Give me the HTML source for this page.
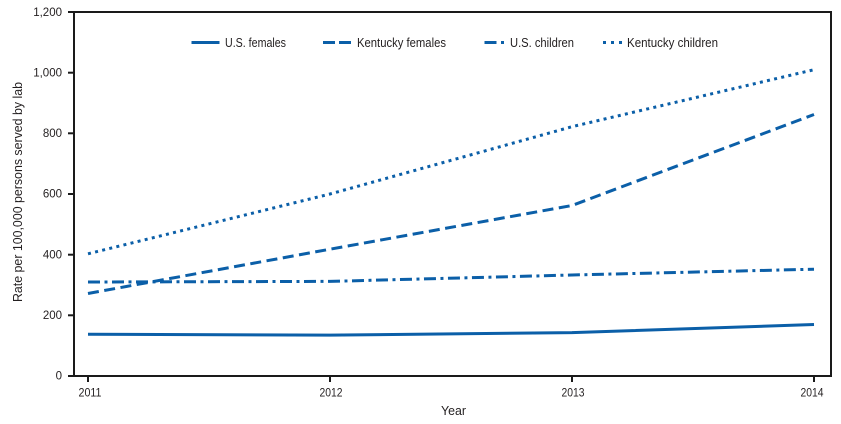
<!DOCTYPE html>
<html>
<head>
<meta charset="utf-8">
<style>
  html,body{margin:0;padding:0;background:#fff;}
  svg{display:block;}
  text{font-family:"Liberation Sans",sans-serif;fill:#231f20;}
</style>
</head>
<body>
<svg width="841" height="424" viewBox="0 0 841 424" xmlns="http://www.w3.org/2000/svg">
  <rect x="0" y="0" width="841" height="424" fill="#fff"/>

  <!-- Series -->
  <g fill="none" stroke="#0b5fa8" stroke-width="3" stroke-linejoin="round">
    <!-- U.S. females (solid) -->
    <polyline points="88,334.2 330,335.1 572,332.6 814,324.5"/>
    <!-- Kentucky females (dashed) -->
    <polyline stroke-dasharray="11,5.5" points="88,293.5 330,249.2 572,205.5 814,114.5"/>
    <!-- U.S. children (dash-dot) -->
    <polyline stroke-dasharray="12,4.5,3,4.5" points="88,282 330,281.4 572,275 814,269.2"/>
    <!-- Kentucky children (dotted) -->
    <polyline stroke-dasharray="3,4.3" points="88,253.8 330,194 572,126.7 814,69.7"/>
  </g>

  <!-- Frame -->
  <rect x="74" y="12" width="757" height="364" fill="none" stroke="#1a1a1a" stroke-width="2"/>

  <!-- Y ticks -->
  <g stroke="#1a1a1a" stroke-width="2">
    <line x1="68" y1="376" x2="74" y2="376"/>
    <line x1="68" y1="315.3" x2="74" y2="315.3"/>
    <line x1="68" y1="254.7" x2="74" y2="254.7"/>
    <line x1="68" y1="194" x2="74" y2="194"/>
    <line x1="68" y1="133.3" x2="74" y2="133.3"/>
    <line x1="68" y1="72.7" x2="74" y2="72.7"/>
    <line x1="68" y1="12" x2="74" y2="12"/>
    <!-- X ticks -->
    <line x1="88" y1="376" x2="88" y2="382"/>
    <line x1="330" y1="376" x2="330" y2="382"/>
    <line x1="572" y1="376" x2="572" y2="382"/>
    <line x1="814" y1="376" x2="814" y2="382"/>
  </g>

  <!-- Y tick labels -->
  <g font-size="11.5" text-anchor="end">
    <text x="62" y="379.5">0</text>
    <text x="62" y="319">200</text>
    <text x="62" y="258.5">400</text>
    <text x="62" y="197.5">600</text>
    <text x="62" y="137">800</text>
    <text x="62" y="76.5">1,000</text>
    <text x="62" y="16">1,200</text>
  </g>

  <!-- X tick labels -->
  <g font-size="11.5" text-anchor="middle">
    <text x="90" y="396.5" textLength="23" lengthAdjust="spacingAndGlyphs">2011</text>
    <text x="331" y="396.5" textLength="23" lengthAdjust="spacingAndGlyphs">2012</text>
    <text x="573" y="396.5" textLength="23" lengthAdjust="spacingAndGlyphs">2013</text>
    <text x="812" y="396.5" textLength="23" lengthAdjust="spacingAndGlyphs">2014</text>
  </g>

  <!-- Axis titles -->
  <text x="453.5" y="415" font-size="12.5" text-anchor="middle" textLength="25" lengthAdjust="spacingAndGlyphs">Year</text>
  <text transform="translate(22,192) rotate(-90)" font-size="12.5" text-anchor="middle" textLength="220" lengthAdjust="spacingAndGlyphs">Rate per 100,000 persons served by lab</text>

  <!-- Legend -->
  <g fill="none" stroke="#0b5fa8" stroke-width="3">
    <line x1="191.5" y1="42.5" x2="219.5" y2="42.5"/>
    <line x1="323" y1="42.5" x2="353" y2="42.5" stroke-dasharray="12,4"/>
    <line x1="484.5" y1="42.5" x2="506" y2="42.5" stroke-dasharray="12,4.5,3,10"/>
    <line x1="603" y1="42.5" x2="622" y2="42.5" stroke-dasharray="3,5"/>
  </g>
  <g font-size="12.5">
    <text x="225" y="47" textLength="61" lengthAdjust="spacingAndGlyphs">U.S. females</text>
    <text x="357" y="47" textLength="89" lengthAdjust="spacingAndGlyphs">Kentucky females</text>
    <text x="510" y="47" textLength="64" lengthAdjust="spacingAndGlyphs">U.S. children</text>
    <text x="627" y="47" textLength="91" lengthAdjust="spacingAndGlyphs">Kentucky children</text>
  </g>
</svg>
</body>
</html>
